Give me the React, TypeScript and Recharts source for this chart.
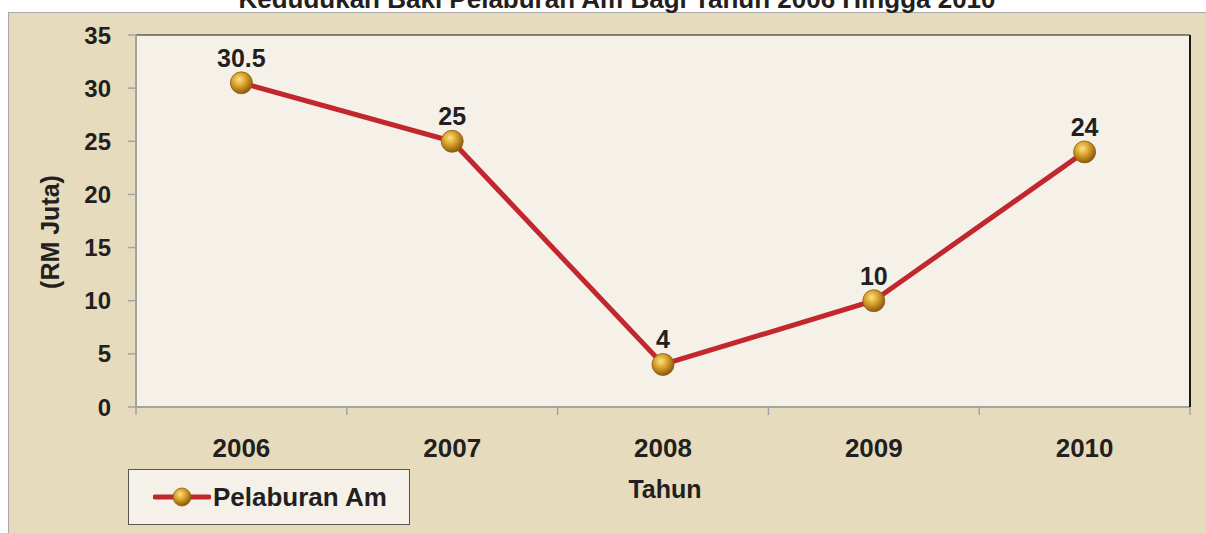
import React from 'react';
import {
  LineChart, Line, XAxis, YAxis, CartesianGrid, LabelList, Legend, Label,
} from 'recharts';

const years = ['2006', '2007', '2008', '2009', '2010'];
const pelaburanAm = [30.5, 25, 4, 10, 24];
const yTicks = [0, 5, 10, 15, 20, 25, 30, 35];

const chartData = years.map((year, i) => ({ year, value: pelaburanAm[i] }));

const FONT = '"Liberation Sans", Arial, sans-serif';
const TEXT = '#231f20';
const AXIS = '#a3a3a3';
const RED = '#c1272d';
const PLOT_BG = '#f5f1e9';
const OUTER_BG = '#e6dcbd';
const BALL_R = 11;

// golden ball marker
const Ball = (props: any) => {
  const { cx, cy, size, gradId } = props;
  if (cx == null || cy == null) return null;
  return (
    <circle cx={cx} cy={cy} r={size || BALL_R} fill={`url(#${gradId || 'ballGrad'})`}
      stroke="#8a5c12" strokeWidth={0.8} />
  );
};

const GradDefs = ({ id }: { id: string }) => (
  <defs>
    <radialGradient id={id} cx="40%" cy="35%" r="65%">
      <stop offset="0%" stopColor="#fbe28a" />
      <stop offset="45%" stopColor="#dca42c" />
      <stop offset="100%" stopColor="#8c5a0e" />
    </radialGradient>
  </defs>
);

const XTick = (props: any) => {
  const { x, y, payload, index, width, visibleTicksCount } = props;
  const band = width / (visibleTicksCount || years.length);
  const left = x - band / 2;
  return (
    <g>
      <line x1={left} y1={y} x2={left} y2={y + 8} stroke={AXIS} strokeWidth={1.5} />
      {index === years.length - 1 && (
        <line x1={x + band / 2} y1={y} x2={x + band / 2} y2={y + 8} stroke={AXIS} strokeWidth={1.5} />
      )}
      <text x={x} y={y + 50} textAnchor="middle" fontFamily={FONT} fontWeight="bold" fontSize={26} fill={TEXT}>
        {payload.value}
      </text>
    </g>
  );
};

const YTitle = ({ viewBox }: any) => {
  const cx = 50;
  const cy = viewBox.y + viewBox.height / 2 + 11;
  return (
    <text x={cx} y={cy} transform={`rotate(-90 ${cx} ${cy})`} textAnchor="middle" dominantBaseline="central"
      fontFamily={FONT} fontWeight="bold" fontSize={25} fill={TEXT}>
      (RM Juta)
    </text>
  );
};

const XTitle = ({ viewBox }: any) => (
  <text x={viewBox.x + viewBox.width / 2 + 2} y={viewBox.y + 91} textAnchor="middle"
    fontFamily={FONT} fontWeight="bold" fontSize={25} fill={TEXT}>
    Tahun
  </text>
);

const LegendBox = ({ payload }: any) => (
  <div style={{
    width: 280, height: 54, background: PLOT_BG, border: '1px solid #555',
    display: 'flex', alignItems: 'center', boxSizing: 'content-box',
  }}>
    {(payload || []).map((p: any) => (
      <div key={p.value} style={{ display: 'flex', alignItems: 'center', marginLeft: 24 }}>
        <svg width={58} height={26}>
          <GradDefs id="legendBall" />
          <line x1={2} y1={13} x2={56} y2={13} stroke={RED} strokeWidth={5} strokeLinecap="round" />
          <Ball cx={29} cy={13} size={9} gradId="legendBall" />
        </svg>
        <span style={{ fontFamily: FONT, fontWeight: 'bold', fontSize: 26, color: TEXT, marginLeft: 2 }}>
          {p.value}
        </span>
      </div>
    ))}
  </div>
);

export default function App() {
  return (
    <div style={{ position: 'absolute', left: 0, top: 0, width: 1206, height: 533, background: '#fff', overflow: 'hidden' }}>
      <div style={{
        position: 'absolute', left: 8, top: 12, width: 1210, height: 530,
        background: OUTER_BG, borderTop: '1px solid #a8a8a8', borderLeft: '1px solid #a8a8a8',
      }} />
      <svg width={1206} height={20} style={{ position: 'absolute', left: 0, top: 0 }}>
        <text x={617} y={8} textAnchor="middle" fontFamily={FONT} fontWeight="bold" fontSize={26} fill={TEXT}>
          Kedudukan Baki Pelaburan Am Bagi Tahun 2006 Hingga 2010
        </text>
      </svg>
      <div style={{ position: 'absolute', left: 0, top: 0 }}>
        <LineChart width={1206} height={533} data={chartData} margin={{ top: 35, right: 0, bottom: 0, left: 0 }}>
          <GradDefs id="ballGrad" />
          <CartesianGrid fill={PLOT_BG} stroke="#1a1a1a" strokeWidth={1.2} vertical={false} />
          <XAxis dataKey="year" scale="band" height={126} axisLine={{ stroke: AXIS, strokeWidth: 2 }} tickLine={false}
            tickSize={0} tickMargin={0} tick={<XTick />} interval={0}>
            <Label content={<XTitle />} />
          </XAxis>
          <YAxis yAxisId="left" width={136} domain={[0, 35]} ticks={yTicks} interval={0}
            axisLine={{ stroke: AXIS, strokeWidth: 2 }} tickLine={{ stroke: AXIS, strokeWidth: 1.5 }}
            tickSize={8} tickMargin={17}
            tick={{ fontFamily: FONT, fontWeight: 'bold', fontSize: 24, fill: TEXT }}>
            <Label content={<YTitle />} />
          </YAxis>
          <YAxis yAxisId="right" orientation="right" width={16} domain={[0, 35]} tick={false} tickLine={false}
            axisLine={{ stroke: '#1a1a1a', strokeWidth: 2 }} />
          <Line yAxisId="left" type="linear" dataKey="value" name="Pelaburan Am" stroke={RED} strokeWidth={5}
            dot={<Ball />} activeDot={false} isAnimationActive={false}>
            <LabelList dataKey="value" position="top" offset={16}
              style={{ fontFamily: FONT, fontWeight: 'bold', fontSize: 25, fill: TEXT }} />
          </Line>
          <Legend layout="vertical" align="center" verticalAlign="middle" content={<LegendBox />}
            wrapperStyle={{ left: 128, top: 469, width: 282, height: 56 }} />
        </LineChart>
      </div>
    </div>
  );
}
